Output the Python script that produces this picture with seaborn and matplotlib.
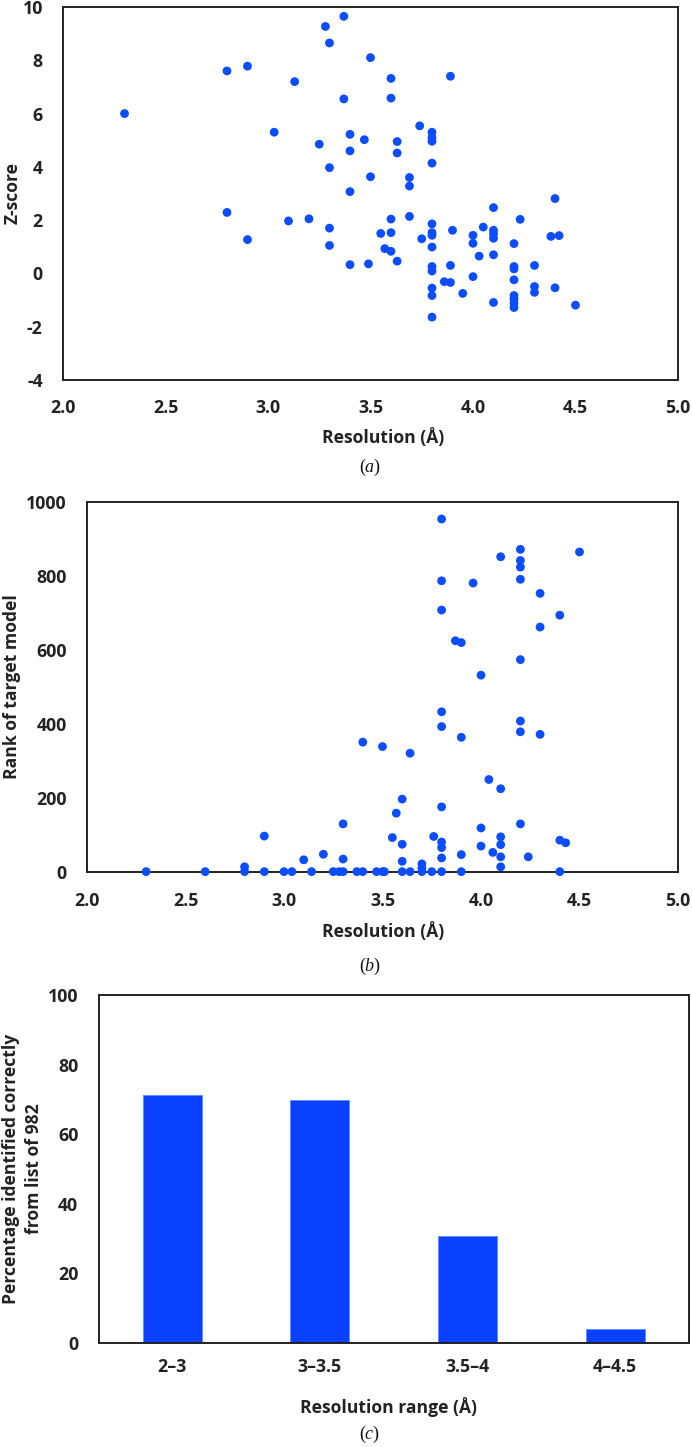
import matplotlib
matplotlib.use("Agg")
import matplotlib.pyplot as plt
import seaborn as sns
import numpy as np
import pandas as pd

# ---------------- data ----------------
# Panel (a): resolution vs Z-score
res_a = [2.30, 2.80, 2.90, 3.13, 3.28, 3.30, 3.37, 3.37, 3.03, 3.25,
         3.40, 3.40, 3.30, 3.40, 2.80, 3.10, 3.20, 3.30, 2.90, 3.30,
         3.40, 3.50, 3.60, 3.89, 3.60, 3.74, 3.80, 3.80, 3.80, 3.47,
         3.63, 3.63, 3.80, 3.50, 3.69, 3.69, 4.40, 4.10, 4.23, 3.60,
         3.69, 3.80, 3.55, 3.60, 3.80, 3.80, 3.75, 3.90, 4.00, 4.00,
         4.05, 4.10, 4.10, 4.10, 4.20, 4.38, 4.42, 3.57, 3.60, 3.63,
         3.80, 3.49, 3.80, 3.80, 3.89, 4.03, 4.10, 4.00, 4.20, 4.20,
         4.30, 4.20, 3.86, 3.89, 3.80, 3.80, 3.95, 4.30, 4.30, 4.40,
         4.10, 4.20, 4.20, 4.20, 4.20, 4.50, 3.80]
zscore = [6.00, 7.60, 7.78, 7.20, 9.27, 8.65, 9.65, 6.55, 5.30, 4.85,
          5.22, 4.60, 3.97, 3.07, 2.29, 1.97, 2.05, 1.70, 1.27, 1.05,
          0.33, 8.10, 7.32, 7.40, 6.58, 5.54, 5.30, 5.10, 4.96, 5.02,
          4.95, 4.52, 4.14, 3.63, 3.60, 3.28, 2.81, 2.47, 2.03, 2.04,
          2.14, 1.86, 1.50, 1.53, 1.53, 1.43, 1.30, 1.62, 1.43, 1.13,
          1.74, 1.62, 1.49, 1.32, 1.12, 1.39, 1.42, 0.93, 0.83, 0.46,
          0.99, 0.36, 0.26, 0.09, 0.30, 0.65, 0.70, -0.12, 0.26, 0.17,
          0.30, -0.24, -0.31, -0.34, -0.55, -0.83, -0.75, -0.49, -0.71, -0.54,
          -1.09, -0.83, -0.96, -1.11, -1.28, -1.19, -1.64]

# Panel (b): resolution vs rank of target model
res_b = [3.80, 4.20, 4.50, 4.10, 4.20, 4.20, 3.80, 3.96, 4.20, 4.30,
         3.80, 4.40, 4.30, 3.87, 3.90, 4.20, 4.00, 3.80, 3.80, 4.20,
         4.20, 4.30, 3.40, 3.50, 3.90, 3.64, 4.04, 4.10, 3.60, 3.80,
         3.57, 3.30, 4.20, 4.00, 3.55, 3.76, 3.80, 3.80, 3.80, 3.60,
         3.60, 4.10, 4.10, 4.00, 4.06, 4.10, 4.10, 4.24, 3.90, 4.40,
         4.43, 3.30, 3.70, 3.70, 2.30, 2.60, 2.80, 2.80, 2.90, 2.90,
         3.00, 3.04, 3.14, 3.10, 3.20, 3.25, 3.28, 3.30, 3.37, 3.40,
         3.47, 3.50, 3.51, 3.60, 3.64, 3.70, 3.75, 3.80, 3.90, 4.40]
rank = [954, 872, 865, 852, 842, 824, 787, 781, 791, 753,
        708, 694, 662, 625, 620, 574, 532, 433, 393, 408,
        379, 372, 351, 339, 364, 321, 250, 225, 197, 176,
        159, 130, 130, 119, 93, 96, 81, 66, 38, 75,
        29, 95, 74, 70, 53, 41, 14, 41, 47, 86,
        79, 35, 22, 10, 1, 1, 14, 1, 97, 1,
        1, 1, 1, 33, 48, 1, 1, 1, 1, 1,
        1, 1, 1, 1, 1, 1, 1, 1, 1, 1]

# Panel (c): percentage identified correctly per resolution range
ranges = ["2\u20133", "3\u20133.5", "3.5\u20134", "4\u20134.5"]
percent = [71.3, 69.7, 30.8, 4.0]

# ---------------- style ----------------
sns.set_theme(style="white")
plt.rcParams['font.family'] = ['Open Sans', 'DejaVu Sans']
plt.rcParams['mathtext.fontset'] = 'custom'
plt.rcParams['mathtext.rm'] = 'Liberation Serif:weight=normal'
plt.rcParams['mathtext.it'] = 'Liberation Serif:style=italic:weight=normal'

TXT = '#222222'
DOT = '#0B4DFF'
BAR = '#0A40FF'
W, H = 692, 1447
TICK_FS = 12.8
LAB_FS = 12.6

fig = plt.figure(figsize=(W / 100, H / 100), dpi=100)
fig.patch.set_facecolor('white')


def rect(l, t, r, b):
    return [l / W, 1 - b / H, (r - l) / W, (b - t) / H]


def style_axes(ax, xpad, ypad):
    for s in ax.spines.values():
        s.set_color(TXT)
        s.set_linewidth(1.4)
        s.set_visible(True)
    ax.tick_params(axis='both', direction='in', length=5, width=1.4,
                   colors=TXT, labelsize=TICK_FS)
    ax.tick_params(axis='x', pad=xpad)
    ax.tick_params(axis='y', pad=ypad)
    for lab in ax.get_xticklabels() + ax.get_yticklabels():
        lab.set_fontweight('bold')
        lab.set_color(TXT)
    ax.set_xlabel('')
    ax.set_ylabel('')


# ---- panel (a)
ax1 = fig.add_axes(rect(63, 7, 678, 380))
df_a = pd.DataFrame({'res': res_a, 'z': zscore})
sns.scatterplot(data=df_a, x='res', y='z', ax=ax1, color=DOT, s=40,
                edgecolor='none', linewidth=0, clip_on=False)
ax1.set_xlim(2.0, 5.0)
ax1.set_ylim(-4, 10)
ax1.set_xticks(np.arange(2.0, 5.01, 0.5))
ax1.set_xticklabels([f'{v:.1f}' for v in np.arange(2.0, 5.01, 0.5)])
ax1.set_yticks(np.arange(-4, 10.1, 2))
ax1.set_yticklabels([f'{int(v)}' for v in np.arange(-4, 10.1, 2)])
style_axes(ax1, 13.5, 14.5)

# ---- panel (b)
ax2 = fig.add_axes(rect(87, 502, 678, 872))
df_b = pd.DataFrame({'res': res_b, 'rank': rank})
sns.scatterplot(data=df_b, x='res', y='rank', ax=ax2, color=DOT, s=40,
                edgecolor='none', linewidth=0, clip_on=False, zorder=3)
ax2.set_xlim(2.0, 5.0)
ax2.set_ylim(0, 1000)
ax2.set_xticks(np.arange(2.0, 5.01, 0.5))
ax2.set_xticklabels([f'{v:.1f}' for v in np.arange(2.0, 5.01, 0.5)])
ax2.set_yticks(np.arange(0, 1001, 200))
ax2.set_yticklabels([f'{int(v)}' for v in np.arange(0, 1001, 200)])
style_axes(ax2, 14.5, 14.5)

# ---- panel (c)
ax3 = fig.add_axes(rect(98.5, 995, 689, 1343))
df_c = pd.DataFrame({'range': ranges, 'pct': percent})
sns.barplot(data=df_c, x='range', y='pct', ax=ax3, color=BAR, width=0.4,
            saturation=1, edgecolor='#5a8cff', linewidth=0.6)
ax3.set_xlim(-0.5, 3.5)
ax3.set_ylim(0, 100)
ax3.set_yticks(np.arange(0, 101, 20))
ax3.set_yticklabels([f'{int(v)}' for v in np.arange(0, 101, 20)])
ax3.set_xticks(range(len(ranges)))
ax3.set_xticklabels(ranges)
ax3.set_xticks([0.5, 1.5, 2.5], minor=True)
style_axes(ax3, 11, 14.5)
ax3.tick_params(axis='x', which='major', length=0)
ax3.tick_params(axis='x', which='minor', direction='in', length=5,
                width=1.4, colors=TXT)

# ---- axis labels and captions
lab_kw = dict(fontsize=LAB_FS, fontweight='bold', color=TXT, ha='center', va='center')
fig.text(13 / W, 1 - 193 / H, 'Z-score', rotation=90, **lab_kw)
fig.text(383 / W, 1 - 438 / H, 'Resolution (Å)', **lab_kw)
fig.text(12 / W, 1 - 687 / H, 'Rank of target model', rotation=90, **lab_kw)
fig.text(383 / W, 1 - 932 / H, 'Resolution (Å)', **lab_kw)
fig.text(11 / W, 1 - 1169 / H, 'Percentage identified correctly', rotation=90, **lab_kw)
fig.text(34 / W, 1 - 1169 / H, 'from list of 982', rotation=90, **lab_kw)
fig.text(388 / W, 1 - 1407 / H, 'Resolution range (Å)', **lab_kw)

cap_kw = dict(fontsize=13, color='#111111', ha='center', va='center',
              fontweight='normal')
fig.text(370 / W, 1 - 467 / H, r'$\mathrm{(}\mathit{a}\mathrm{)}$', **cap_kw)
fig.text(370 / W, 1 - 966 / H, r'$\mathrm{(}\mathit{b}\mathrm{)}$', **cap_kw)
fig.text(370 / W, 1 - 1434 / H, r'$\mathrm{(}\mathit{c}\mathrm{)}$', **cap_kw)

fig.savefig('out.png', dpi=100, facecolor='white')
